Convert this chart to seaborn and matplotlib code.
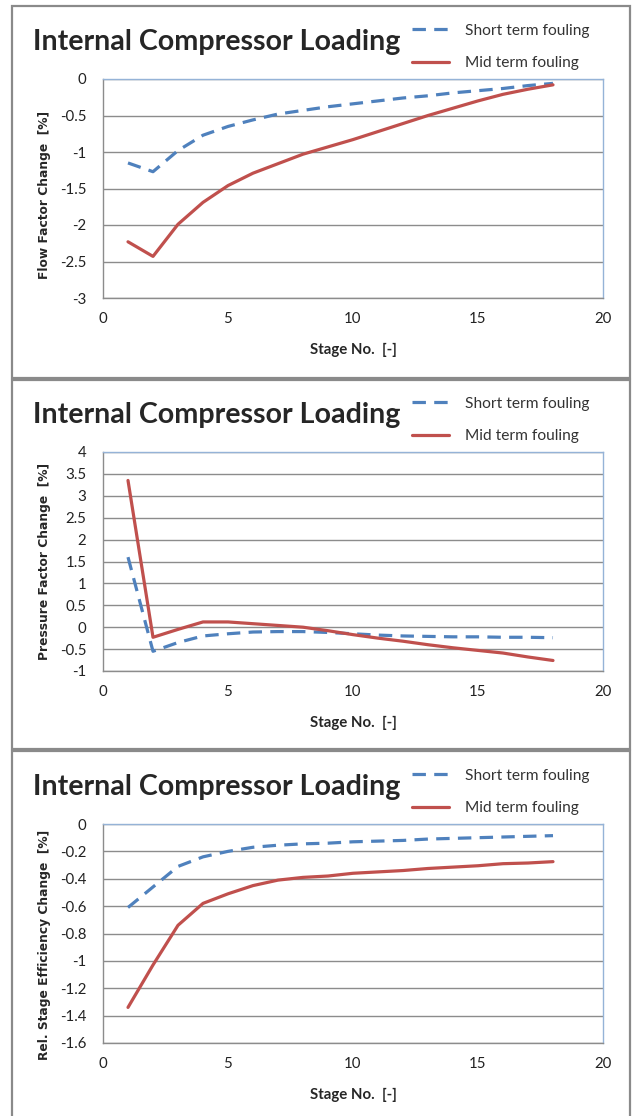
import numpy as np
import pandas as pd
import matplotlib
matplotlib.use("Agg")
import matplotlib.pyplot as plt
import seaborn as sns
from matplotlib.patches import Rectangle

# ---------------------------------------------------------
# Data
# ---------------------------------------------------------
stages = list(range(1, 19))

flow_short = [-1.15, -1.27, -0.98, -0.77, -0.65, -0.56, -0.48, -0.43, -0.38,
              -0.34, -0.30, -0.26, -0.23, -0.19, -0.16, -0.13, -0.09, -0.06]
flow_mid = [-2.23, -2.43, -1.99, -1.69, -1.46, -1.29, -1.16, -1.03, -0.93,
            -0.83, -0.72, -0.61, -0.50, -0.40, -0.30, -0.21, -0.14, -0.08]

press_short = [1.60, -0.55, -0.35, -0.20, -0.15, -0.11, -0.10, -0.10, -0.12,
               -0.15, -0.18, -0.20, -0.21, -0.22, -0.22, -0.23, -0.23, -0.24]
press_mid = [3.35, -0.23, -0.05, 0.12, 0.12, 0.08, 0.04, 0.00, -0.08,
             -0.17, -0.25, -0.32, -0.40, -0.47, -0.53, -0.59, -0.68, -0.76]

eff_short = [-0.61, -0.46, -0.31, -0.24, -0.20, -0.17, -0.155, -0.145, -0.14,
             -0.13, -0.125, -0.12, -0.11, -0.105, -0.10, -0.095, -0.09, -0.085]
eff_mid = [-1.34, -1.03, -0.74, -0.58, -0.51, -0.45, -0.41, -0.39, -0.38,
           -0.36, -0.35, -0.34, -0.325, -0.315, -0.305, -0.29, -0.285, -0.275]

series_names = ["Short term fouling", "Mid term fouling"]
title = "Internal Compressor Loading"
xlabel = "Stage No.  [-]"

panels = [
    {"short": flow_short, "mid": flow_mid, "ylabel": "Flow Factor Change  [%]",
     "ylim": (-3, 0), "ystep": 0.5, "label_y": 0.47},
    {"short": press_short, "mid": press_mid, "ylabel": "Pressure Factor Change  [%]",
     "ylim": (-1, 4), "ystep": 0.5, "label_y": 0.5},
    {"short": eff_short, "mid": eff_mid, "ylabel": "Rel. Stage Efficiency Change  [%]",
     "ylim": (-1.6, 0), "ystep": 0.2, "label_y": 0.45},
]

# ---------------------------------------------------------
# Layout in pixels
# ---------------------------------------------------------
W, H = 634, 1116
sns.set_style("white")
plt.rcParams["font.family"] = ["Lato", "DejaVu Sans"]

fig = plt.figure(figsize=(W / 100, H / 100), dpi=100)

panel_boxes = [(6, 378), (380, 749), (751, 1120)]   # top, bottom of each frame
plot_tops = [79, 452, 824]
plot_h = 219
plot_left, plot_right = 103, 603

blue = "#4F81BD"
red = "#C0504D"
grid_c = "#8C8C8C"


def fx(px):
    return px / W


def fy(py):
    return 1 - py / H


def fmt(v):
    v = round(float(v), 2) + 0.0
    if abs(v) < 1e-9:
        v = 0.0
    return f"{v:g}"


for i, p in enumerate(panels):
    top, bottom = panel_boxes[i]
    fig.patches.append(Rectangle((fx(12), fy(bottom)), fx(630 - 12), (bottom - top) / H,
                                 transform=fig.transFigure, fill=False,
                                 edgecolor="#8A8A8A", linewidth=1.6, zorder=0))

    t = plot_tops[i]
    ax = fig.add_axes([fx(plot_left), fy(t + plot_h), fx(plot_right - plot_left), plot_h / H])

    df = pd.DataFrame({"Stage": stages * 2,
                       "Value": p["short"] + p["mid"],
                       "Series": [series_names[0]] * 18 + [series_names[1]] * 18})
    sns.lineplot(data=df, x="Stage", y="Value", hue="Series", style="Series",
                 palette=[blue, red], dashes=[(4.2, 2.6), ""], linewidth=2.3,
                 ax=ax, legend=False)

    ax.set_xlim(0, 20)
    ax.set_ylim(*p["ylim"])
    ax.set_xticks(np.arange(0, 21, 5))
    yt = np.arange(p["ylim"][0], p["ylim"][1] + 1e-9, p["ystep"])
    ax.set_yticks(yt)
    ax.set_yticklabels([fmt(v) for v in yt])
    ax.yaxis.grid(True, color=grid_c, linewidth=1.0)
    ax.xaxis.grid(False)
    ax.tick_params(axis="both", length=0, labelsize=10.8, colors="#222222", pad=10)
    ax.tick_params(axis="y", pad=12)
    for side in ["left", "bottom"]:
        ax.spines[side].set_color("#8C8C8C")
        ax.spines[side].set_linewidth(1.0)
    for side in ["top", "right"]:
        ax.spines[side].set_color("#95B3D7")
        ax.spines[side].set_linewidth(1.0)

    ax.set_xlabel(xlabel, fontsize=10.8, fontweight="bold", labelpad=12)
    ax.set_ylabel(p["ylabel"], fontsize=8.8, fontweight="bold",
                  family=["DejaVu Sans"])
    ax.yaxis.set_label_coords(-0.104, p["label_y"])

    # title
    fig.text(fx(33), fy(t - 37), title, fontsize=20.6, fontweight="bold",
             va="center", ha="left")

    # legend
    handles = ax.get_lines()[:2]
    leg = ax.legend(handles, series_names, loc="center left",
                    bbox_to_anchor=(fx(404), fy(t - 32)), bbox_transform=fig.transFigure,
                    frameon=False, fontsize=11.2, handlelength=2.4, handletextpad=1.0,
                    labelspacing=1.2, borderpad=0)
    for txt in leg.get_texts():
        txt.set_color("#333333")

fig.savefig("out.png", dpi=100)
